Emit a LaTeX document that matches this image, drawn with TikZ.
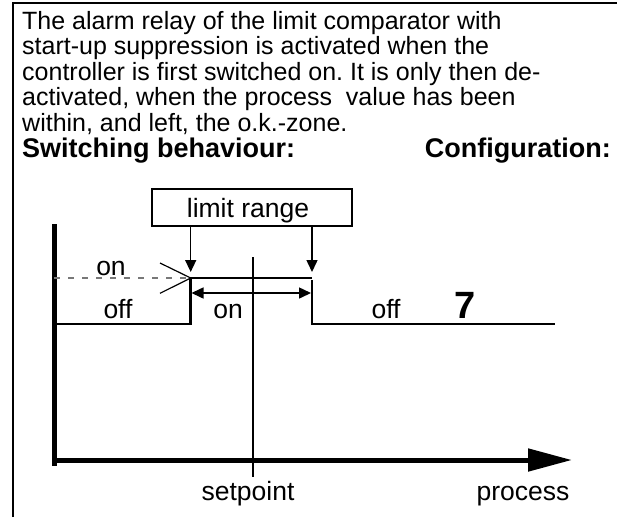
\documentclass[tikz,border=0pt]{standalone}
\usepackage{fontspec}
\setmainfont{Liberation Sans}
\usetikzlibrary{arrows.meta}
\definecolor{dashgray}{RGB}{120,120,120}
\frenchspacing

\begin{document}
\begin{tikzpicture}[x=1pt,y=-1pt,
  txt/.style={anchor=base west,inner sep=0pt,font=\fontsize{25}{27}\selectfont},
  head/.style={inner sep=0pt,font=\fontsize{27}{29}\selectfont\bfseries},
  lbl/.style={anchor=base,inner sep=0pt,font=\fontsize{26.5}{28}\selectfont},
  tip/.style={-{Triangle[length=12pt,width=11pt]}},
  signal/.style={line width=2.5pt}]
\useasboundingbox (0,0) rectangle (617,517);
% frame
\draw[line width=2.5pt] (13,517) -- (13,3) -- (617,3);
% description
\node[txt] (l1) at (22,29) {The alarm relay of the limit comparator with};
\node[txt] (l2) at (22,54.6) {start-up suppression is activated when the};
\node[txt] (l3) at (22,80.2) {controller is first switched on. It is only then de-};
\node[txt] (l4) at (22,105.8) {activated, when the process~ value has been};
\node[txt] (l5) at (22,131.4) {within, and left, the o.k.-zone.};
\node[head,anchor=base west] (sb) at (22,157) {Switching behaviour:};
\node[head,anchor=base east] (cf) at (611,157) {Configuration:};
% limit range
\draw[line width=1.5pt] (152,189) rectangle (352,226);
\node[lbl] (lr) at (248,217) {limit range};
\coordinate (son) at (190.7,278);
\coordinate (soff) at (312,278);
\draw[line width=1.5pt,tip] (son |- 0,226) -- (son |- 0,272);
\draw[line width=1.5pt,tip] (soff |- 0,226) -- (soff |- 0,272);
% axes
\draw[line width=5pt] (54,224) -- (54,466);
\draw[line width=5pt,-{Triangle[length=44pt,width=22pt]}] (52,460) -- (572,460);
\draw[line width=2pt] (253,257) -- (253,477);
% relay output
\draw[signal] (54,324) -- (son |- 0,324) -- (son) -- (soff);
\draw[signal] (312,280) -- (312,324) -- (555,324);
\draw[dashgray,line width=1.2pt,dash pattern=on 6pt off 8pt] (54,278) -- (son);
\draw[line width=1.2pt] (160,263) -- (son) -- (160,293.3);
\draw[line width=1.5pt,{Triangle[length=12pt,width=11pt]}-{Triangle[length=12pt,width=11pt]}] (191.5,293) -- (311,293);
% labels
\node[lbl] (on1) at (111,275) {on};
\node[lbl] (off1) at (118,318) {off};
\node[lbl] (on2) at (228,318) {on};
\node[lbl] (off2) at (386,318) {off};
\node[lbl,font=\fontsize{38}{40}\selectfont\bfseries] (cfg) at (465,318) {7};
\node[lbl] (sp) at (248,500) {setpoint};
\node[lbl] (pv) at (523,500) {process};
\end{tikzpicture}
\end{document}
